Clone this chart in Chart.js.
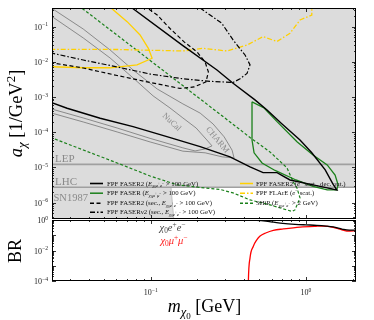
<!DOCTYPE html>
<html lang="en">
<head>
<meta charset="UTF-8">
<title>Inelastic dark matter reach</title>
<script src="https://cdn.jsdelivr.net/npm/chart.js"></script>
<style>
  body { margin: 0; background: #fff; }
  canvas { position: absolute; left: 0; top: 0; }
</style>
</head>
<body>
<canvas id="reach" width="374" height="320"></canvas>
<canvas id="br" width="374" height="320"></canvas>
<script>
// axis ranges
const massRange = [0.0231, 2.1];
const couplingRange = [3.42e-7, 0.34];
const brRange = [1e-4, 1];
const yExpsTop = [-1, -2, -3, -4, -5, -6];
const yExpsBR = [0, -2, -4];
const xExps = [-1, 0];

// existing bounds
const lepBound = 1.22e-5;
const lhcBound = 2.74e-6;
const snMass = [0.02, 0.135, 0.141];
const snCoupling = [lhcBound, lhcBound, 3e-7];

const nucalM = [0.0225, 0.0367, 0.0547, 0.0769, 0.1035, 0.133, 0.161, 0.196, 0.230, 0.248, 0.224, 0.193, 0.161, 0.099, 0.0607, 0.0367, 0.0225];
const nucalA = [0.21, 0.048, 0.0129, 3.5e-3, 1.08e-3, 4.9e-4, 2.55e-4, 1.32e-4, 6.0e-5, 4.1e-5, 3.36e-5, 2.94e-5, 3.6e-5, 6.7e-5, 1.32e-4, 2.55e-4, 4.7e-4];
const charmM = [0.0220, 0.0367, 0.0547, 0.0769, 0.110, 0.161, 0.208, 0.252, 0.297, 0.334, 0.344, 0.288, 0.224, 0.161, 0.099, 0.0607, 0.0367, 0.0225];
const charmA = [0.38, 0.086, 0.0218, 5.9e-3, 1.7e-3, 6.4e-4, 3.5e-4, 1.72e-4, 7.4e-5, 3.1e-5, 1.86e-5, 2.0e-5, 2.6e-5, 2.9e-5, 5.3e-5, 1.02e-4, 1.96e-4, 3.6e-4];

// projected reach
const faser2M = [0.0225, 0.0289, 0.0472, 0.0769, 0.127, 0.208, 0.324, 0.436, 0.529, 0.651, 0.789, 1.11, 1.58, 1.49, 1.33, 1.09, 0.915, 0.701, 0.561, 0.469, 0.339, 0.267, 0.161, 0.0758, 0.0683];
const faser2A = [7.2e-4, 4.8e-4, 2.5e-4, 1.44e-4, 7.5e-5, 3.9e-5, 2.0e-5, 1.03e-5, 7.1e-6, 7.1e-6, 4.4e-6, 3.2e-6, 2.3e-6, 3.4e-6, 8.5e-6, 2.6e-5, 6.0e-5, 1.72e-4, 4.3e-4, 8.3e-4, 2.47e-3, 5.9e-3, 0.029, 0.34, 0.47];
const faserM = [0.449, 0.537, 0.651, 0.875, 1.11, 1.37, 1.54, 1.61, 1.58, 1.37, 1.11, 0.862, 0.632, 0.521, 0.463, 0.449, 0.449];
const faserA = [7.3e-4, 4.9e-4, 2.0e-4, 5.4e-5, 2.26e-5, 1.18e-5, 6.1e-6, 3.2e-6, 2.3e-6, 2.3e-6, 2.9e-6, 4.4e-6, 8.2e-6, 1.34e-5, 2.6e-5, 6.0e-5, 7.3e-4];
const faser2SecM = [0.0225, 0.0367, 0.0607, 0.099, 0.154, 0.190, 0.227, 0.235, 0.224, 0.199, 0.164, 0.133, 0.110, 0.0947, 0.0853];
const faser2SecA = [9.6e-3, 6.7e-3, 4.1e-3, 2.6e-3, 1.76e-3, 1.94e-3, 2.7e-3, 5.2e-3, 9.9e-3, 0.019, 0.037, 0.089, 0.215, 0.34, 0.50];
const fasernu2M = [0.0225, 0.0367, 0.0607, 0.099, 0.161, 0.241, 0.339, 0.376, 0.417, 0.436, 0.405, 0.339, 0.287, 0.241, 0.208, 0.187];
const fasernu2A = [0.0182, 0.0113, 7.2e-3, 4.5e-3, 3.3e-3, 2.8e-3, 2.6e-3, 3.3e-3, 4.7e-3, 8.2e-3, 0.0157, 0.042, 0.125, 0.215, 0.34, 0.47];
const scatM = [0.0225, 0.0367, 0.0547, 0.0816, 0.102, 0.0965, 0.0853, 0.0704, 0.0555, 0.0516];
const scatA = [7.3e-3, 6.8e-3, 6.8e-3, 8.2e-3, 0.0127, 0.0243, 0.058, 0.139, 0.34, 0.47];
const flareM = [0.0225, 0.0607, 0.161, 0.217, 0.310, 0.417, 0.529, 0.651, 0.789, 0.915, 1.09, 1.09, 1.09];
const flareA = [0.0228, 0.0225, 0.0204, 0.0243, 0.0204, 0.0302, 0.052, 0.038, 0.065, 0.155, 0.215, 0.34, 0.50];
const shipM = [0.0225, 0.0367, 0.0607, 0.099, 0.148, 0.208, 0.279, 0.339, 0.436, 0.586, 0.813, 0.849, 0.915, 0.875, 0.825, 0.755, 0.586, 0.436, 0.324, 0.187, 0.099, 0.0361, 0.0330];
const shipA = [7.2e-5, 3.14e-5, 1.34e-5, 5.7e-6, 3.2e-6, 2.7e-6, 2.37e-6, 1.89e-6, 1.19e-6, 8.6e-7, 5.6e-7, 6.2e-7, 1.36e-6, 2.6e-6, 3.95e-6, 9.7e-6, 2.76e-5, 7.1e-5, 1.96e-4, 1.27e-3, 0.011, 0.333, 0.456];

// branching ratios
const eeMass = [0.0225, 0.43, 0.48, 0.55, 0.62, 0.71, 0.85, 1.0, 1.17, 1.35, 1.5, 1.65, 1.75, 1.9, 2.15];
const brEE = [0.985, 0.985, 0.95, 0.85, 0.72, 0.6, 0.52, 0.48, 0.45, 0.40, 0.35, 0.28, 0.24, 0.22, 0.22];
const mumuMass = [0.424, 0.4255, 0.436, 0.458, 0.482, 0.506, 0.55, 0.616, 0.714, 0.915, 1.17, 1.29, 1.5, 1.65, 1.83, 2.15];
const brMuMu = [1e-5, 1e-4, 3.3e-3, 0.019, 0.05, 0.088, 0.14, 0.21, 0.26, 0.345, 0.39, 0.40, 0.33, 0.25, 0.19, 0.2];

const FONT = '"Liberation Serif", "DejaVu Serif", serif';
const GREY = '#dcdcdc';

function pts(ms, as) { return ms.map((m, i) => ({ x: m, y: as[i] })); }
function curve(label, ms, as, color, width, dash, order) {
  return { label, data: pts(ms, as), borderColor: color, borderWidth: width, borderDash: dash || [],
    fill: false, pointRadius: 0, tension: 0, order: order || 0 };
}

// rich text: [text, scale, dy, italic]
const N = t => [t, 1, 0, false];
const I = t => [t, 1, 0, true];
const SUP = t => [t, 0.7, -0.4, false];
const SUB = t => [t, 0.7, 0.22, false];
const SUBI = t => [t, 0.7, 0.22, true];
const SUB2 = t => [t, 0.5, 0.4, false];
const SUBSUP = t => [t, 0.5, -0.02, false];

function drawRich(ctx, parts, x, y, size, align, color) {
  let w = 0;
  const fonts = parts.map(p => {
    const f = (p[3] ? 'italic ' : '') + (size * p[1]).toFixed(2) + 'px ' + FONT;
    ctx.font = f;
    const pw = ctx.measureText(p[0]).width;
    w += pw;
    return [f, pw];
  });
  let cx = align === 'right' ? x - w : align === 'center' ? x - w / 2 : x;
  ctx.fillStyle = color;
  ctx.textAlign = 'left';
  ctx.textBaseline = 'alphabetic';
  parts.forEach((p, i) => {
    ctx.font = fonts[i][0];
    ctx.fillText(p[0], cx, y + p[2] * size);
    cx += fonts[i][1];
  });
  return w;
}
const powLabel = e => [N('10'), SUP(e < 0 ? '\u2212' + (-e) : String(e))];

// frame, ticks and tick labels, like matplotlib "in" ticks
const frame = {
  id: 'frame',
  afterDatasetsDraw(chart, args, opts) {
    const ctx = chart.ctx, a = chart.chartArea, xs = chart.scales.x, ys = chart.scales.y;
    ctx.save();
    ctx.strokeStyle = '#000';
    ctx.lineWidth = 0.8;
    ctx.beginPath();
    for (let e = -8; e <= 1; e++) {
      for (let k = 1; k <= 9; k++) {
        const v = k * Math.pow(10, e);
        const len = k === 1 ? 4 : 2;
        if (v >= xs.min && v <= xs.max) {
          const px = Math.round(xs.getPixelForValue(v)) + 0.5;
          ctx.moveTo(px, a.bottom); ctx.lineTo(px, a.bottom - len);
          ctx.moveTo(px, a.top); ctx.lineTo(px, a.top + len);
        }
        if (v >= ys.min && v <= ys.max) {
          const py = Math.round(ys.getPixelForValue(v)) + 0.5;
          ctx.moveTo(a.left, py); ctx.lineTo(a.left + len, py);
          ctx.moveTo(a.right, py); ctx.lineTo(a.right - len, py);
        }
      }
    }
    ctx.stroke();
    ctx.lineWidth = 1;
    ctx.strokeRect(a.left + 0.5, a.top + 0.5, a.right - a.left - 1, a.bottom - a.top - 1);
    opts.yExps.forEach(e => {
      drawRich(ctx, powLabel(e), a.left - 4, ys.getPixelForValue(Math.pow(10, e)) + 3, 8, 'right', '#222');
    });
    opts.xExps.forEach(e => {
      drawRich(ctx, powLabel(e), xs.getPixelForValue(Math.pow(10, e)), a.bottom + 14, 8, 'center', '#222');
    });
    ctx.restore();
  }
};

const eeSub = [SUBI('\u03c7'), SUB2('0'), SUBI('e'), SUBSUP('+'), SUBI('e'), SUBSUP('\u2212')];
const mumuSub = [SUBI('\u03c7'), SUB2('0'), SUBI('\u03bc'), SUBSUP('+'), SUBI('\u03bc'), SUBSUP('\u2212')];
const legendEntries = [
  { key: 'FASER2', col: 0, row: 0, parts: [N('FPF FASER2 ('), I('E'), ...eeSub, N(' > 100 GeV)')] },
  { key: 'FASER', col: 0, row: 1, parts: [N('FPF FASER ('), I('E'), ...mumuSub, N(' > 100 GeV)')] },
  { key: 'FASER2 sec', col: 0, row: 2, parts: [N('FPF FASER2 (sec., '), I('E'), ...eeSub, N(' > 100 GeV)')] },
  { key: 'FASERnu2 sec', col: 0, row: 3, parts: [N('FPF FASER\u03bd2 (sec., '), I('E'), ...eeSub, N(' > 100 GeV)')] },
  { key: 'FASER2 scat', col: 1, row: 0, parts: [N('FPF FASER2 ('), I('e'), SUP('\u2212'), N(' scat., dec. out.)')] },
  { key: 'FLArE', col: 1, row: 1, parts: [N('FPF FLArE ('), I('e'), SUP('\u2212'), N(' scat.)')] },
  { key: 'SHiP', col: 1, row: 2, parts: [N('SHiP ('), I('E'), ...eeSub, N(' > 2 GeV)')] }
];

const annotations = {
  id: 'annotations',
  afterDatasetsDraw(chart) {
    const ctx = chart.ctx, a = chart.chartArea, xs = chart.scales.x, ys = chart.scales.y;
    ctx.save();
    ctx.fillStyle = '#8a8a8a';
    ctx.font = '11px ' + FONT;
    ctx.textAlign = 'left';
    ctx.textBaseline = 'alphabetic';
    ctx.fillText('LEP', a.left + 3, ys.getPixelForValue(lepBound) - 2);
    ctx.fillText('LHC', a.left + 3, ys.getPixelForValue(lhcBound) - 2);
    ctx.font = '10.5px ' + FONT;
    ctx.fillText('SN1987', a.left + 1.5, ys.getPixelForValue(lhcBound) + 14);
    ctx.font = '8.5px ' + FONT;
    ctx.textAlign = 'center';
    ctx.textBaseline = 'middle';
    [['NuCal', 0.1365, 1.92e-4, 43], ['CHARM', 0.2685, 6.0e-5, 50]].forEach(([t, m, c, rot]) => {
      ctx.save();
      ctx.translate(xs.getPixelForValue(m), ys.getPixelForValue(c));
      ctx.rotate(rot * Math.PI / 180);
      ctx.fillText(t, 0, 0);
      ctx.restore();
    });
    // legend
    const rows = [185.5, 195.2, 205.3, 214.3];
    const cols = [[90, 103, 107], [240, 253, 256]];
    legendEntries.forEach(ent => {
      const ds = chart.data.datasets.find(d => d.label === ent.key);
      const [x0, x1, xt] = cols[ent.col];
      const y = rows[ent.row];
      ctx.beginPath();
      ctx.strokeStyle = ds.borderColor;
      ctx.lineWidth = ds.borderWidth + 0.2;
      ctx.setLineDash(ds.borderDash);
      ctx.moveTo(x0, y - 2);
      ctx.lineTo(x1, y - 2);
      ctx.stroke();
      ctx.setLineDash([]);
      drawRich(ctx, ent.parts, xt, y, 6.8, 'left', '#111');
    });
    // axis title
    ctx.translate(22, 113.5);
    ctx.rotate(-Math.PI / 2);
    drawRich(ctx, [I('a'), SUBI('\u03c7'), N(' [1/GeV'), SUP('2'), N(']')], 0, 0, 18.5, 'center', '#000');
    ctx.restore();
  }
};

const brAnnotations = {
  id: 'brAnnotations',
  afterDatasetsDraw(chart) {
    const ctx = chart.ctx, xs = chart.scales.x, ys = chart.scales.y, a = chart.chartArea;
    ctx.save();
    drawRich(ctx, [I('\u03c7'), SUB('0'), I('e'), SUP('+'), I('e'), SUP('\u2212')],
      xs.getPixelForValue(0.138), ys.getPixelForValue(0.306) + 3, 10.5, 'center', '#444');
    drawRich(ctx, [I('\u03c7'), SUB('0'), I('\u03bc'), SUP('+'), I('\u03bc'), SUP('\u2212')],
      xs.getPixelForValue(0.141), ys.getPixelForValue(0.042) + 3, 10.5, 'center', '#ff2020');
    drawRich(ctx, [I('m'), SUBI('\u03c7'), SUB2('0'), N(' [GeV]')], (a.left + a.right) / 2 + 0.5, 312, 18, 'center', '#000');
    ctx.translate(21, 251);
    ctx.rotate(-Math.PI / 2);
    drawRich(ctx, [N('BR')], 0, 0, 18, 'center', '#000');
    ctx.restore();
  }
};

function logAxes(yr) {
  return {
    x: { type: 'logarithmic', min: massRange[0], max: massRange[1], display: false },
    y: { type: 'logarithmic', min: yr[0], max: yr[1], display: false }
  };
}
const common = {
  responsive: false,
  animation: false,
  events: [],
  plugins: { legend: { display: false }, tooltip: { enabled: false } },
  elements: { point: { radius: 0 }, line: { tension: 0 } }
};

new Chart(document.getElementById('reach'), {
  type: 'line',
  data: {
    datasets: [
      curve('FASER2', faser2M, faser2A, '#000', 1.4, [], 0),
      curve('FASER', faserM, faserA, '#1a801a', 1.3, [], 1),
      curve('FASER2 sec', faser2SecM, faser2SecA, '#000', 1.2, [4, 2.5], 2),
      curve('FASERnu2 sec', fasernu2M, fasernu2A, '#000', 1.2, [5, 2, 1.5, 2], 2),
      curve('FASER2 scat', scatM, scatA, '#ffd000', 1.3, [], 3),
      curve('FLArE', flareM, flareA, '#ffd000', 1.3, [5, 2, 1.5, 2], 3),
      curve('SHiP', shipM, shipA, '#1a801a', 1.2, [3, 2], 3),
      curve('NuCal', nucalM, nucalA, '#808080', 0.9, [], 8),
      curve('CHARM', charmM, charmA, '#808080', 0.9, [], 8),
      curve('LEP', [0.02, 2.2], [lepBound, lepBound], '#a0a0a0', 1.6, [], 9),
      Object.assign(curve('LHC', [0.02, 2.2], [lhcBound, lhcBound], '#a0a0a0', 1.6, [], 10),
        { fill: 'end', backgroundColor: GREY }),
      Object.assign(curve('SN1987', snMass, snCoupling, '#b8b8b8', 0.8, [], 11),
        { fill: 'start', backgroundColor: GREY })
    ]
  },
  options: Object.assign({}, common, {
    layout: { padding: { left: 52, right: 18, top: 8, bottom: 101 } },
    scales: logAxes(couplingRange),
    plugins: Object.assign({}, common.plugins, { frame: { yExps: yExpsTop, xExps: [] } })
  }),
  plugins: [frame, annotations]
});

new Chart(document.getElementById('br'), {
  type: 'line',
  data: {
    datasets: [
      Object.assign(curve('ee', eeMass, brEE, '#000', 1.3, [], 0), { cubicInterpolationMode: 'monotone' }),
      Object.assign(curve('mumu', mumuMass, brMuMu, '#ff0000', 1.3, [], 1), { cubicInterpolationMode: 'monotone' })
    ]
  },
  options: Object.assign({}, common, {
    layout: { padding: { left: 52, right: 18, top: 220, bottom: 39 } },
    scales: logAxes(brRange),
    plugins: Object.assign({}, common.plugins, { frame: { yExps: yExpsBR, xExps: xExps } })
  }),
  plugins: [frame, brAnnotations]
});
</script>
</body>
</html>
